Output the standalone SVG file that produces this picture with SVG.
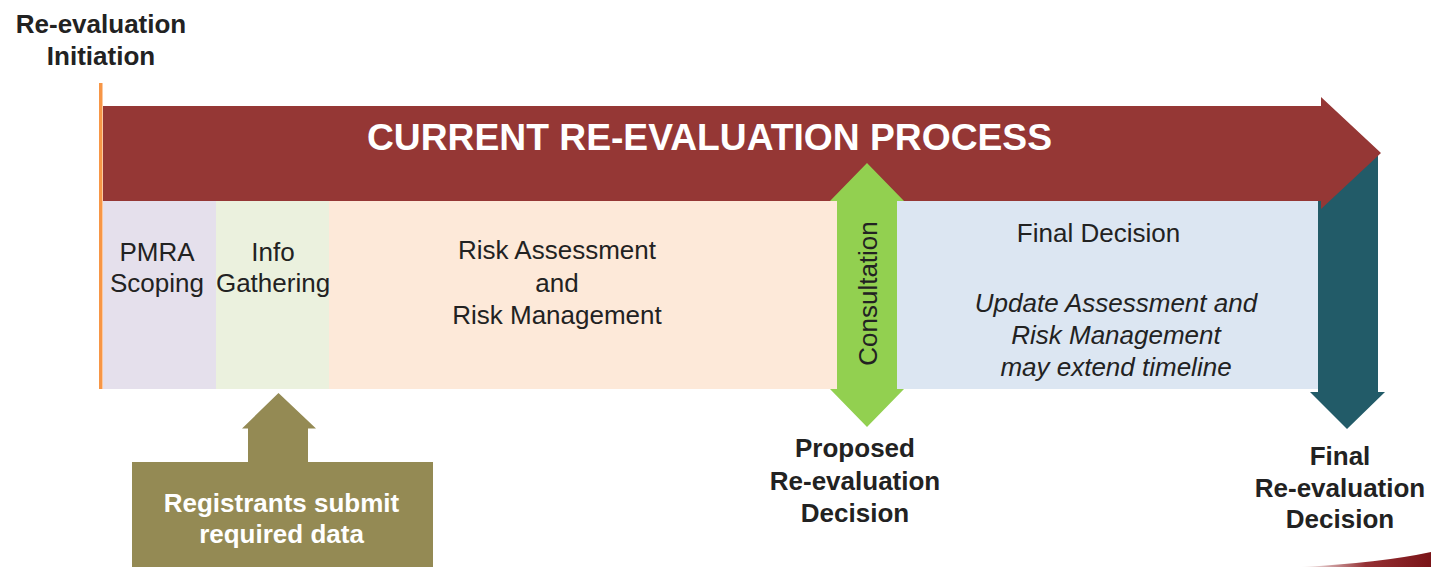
<svg xmlns="http://www.w3.org/2000/svg" width="1431" height="567" viewBox="0 0 1431 567">
<defs>
<style>
.t{font-family:"Liberation Sans",Arial,sans-serif;fill:#222;font-size:26px;text-anchor:middle}
.b{font-weight:bold}
.i{font-style:italic}
.w{fill:#fff}
</style>
<linearGradient id="sw" x1="0" y1="0" x2="1" y2="0">
<stop offset="0" stop-color="#8a1a1e" stop-opacity="0"/>
<stop offset="0.5" stop-color="#8a1a1e" stop-opacity="0.9"/>
<stop offset="1" stop-color="#7a1418"/>
</linearGradient>
</defs>
<rect width="1431" height="567" fill="#fff"/>

<g id="panels">
<rect id="pmra" x="103" y="201" width="113" height="188" fill="#E5E0EC"/>
<rect id="info" x="216" y="201" width="113" height="188" fill="#EBF1DE"/>
<rect id="risk" x="329" y="201" width="508" height="188" fill="#FDE9D9"/>
<rect id="final" x="897" y="201" width="421" height="188" fill="#DCE6F2"/>
</g>

<g id="teal-arrow">
<polygon points="1318,150 1378,150 1378,392 1385,392 1347,429 1310,392 1318,392" fill="#225B68"/>
</g>

<g id="main-arrow">
<polygon points="103,106 1321,106 1321,97 1381,153 1321,209 1321,201 103,201" fill="#953735"/>
<text class="t b w" x="709.5" y="150" style="font-size:37px" textLength="685" lengthAdjust="spacingAndGlyphs">CURRENT RE-EVALUATION PROCESS</text>
</g>

<g id="initiation">
<rect x="99" y="83" width="3.5" height="306" fill="#F79646"/>
<text class="t b" x="101" y="33">Re-evaluation</text>
<text class="t b" x="101" y="65">Initiation</text>
</g>

<g id="pmra-text">
<text class="t" x="157" y="261">PMRA</text>
<text class="t" x="157" y="292">Scoping</text>
</g>
<g id="info-text">
<text class="t" x="273" y="261">Info</text>
<text class="t" x="273" y="292">Gathering</text>
</g>
<g id="risk-text">
<text class="t" x="557" y="259">Risk Assessment</text>
<text class="t" x="557" y="292">and</text>
<text class="t" x="557" y="324">Risk Management</text>
</g>
<g id="final-text">
<text class="t" x="1098.5" y="241.5">Final Decision</text>
<text class="t i" x="1116" y="311.5">Update Assessment and</text>
<text class="t i" x="1116" y="344">Risk Management</text>
<text class="t i" x="1116" y="375.5">may extend timeline</text>
</g>

<g id="consultation">
<polygon points="867,163 904,201 897,201 897,389 904,389 867,427 830,389 837,389 837,201 830,201" fill="#92D050"/>
<text class="t" transform="translate(877,293.5) rotate(-90)" x="0" y="0">Consultation</text>
</g>

<g id="proposed">
<text class="t b" x="855" y="457">Proposed</text>
<text class="t b" x="855" y="490">Re-evaluation</text>
<text class="t b" x="855" y="521.5">Decision</text>
</g>

<g id="final-decision">
<text class="t b" x="1340" y="465">Final</text>
<text class="t b" x="1340" y="497">Re-evaluation</text>
<text class="t b" x="1340" y="528">Decision</text>
</g>

<g id="registrants">
<polygon points="278.5,393 316,428.5 308,428.5 308,462 433,462 433,567 132,567 132,462 248,462 248,428.5 242,428.5" fill="#948A54"/>
<text class="t b w" x="281.5" y="511.5">Registrants submit</text>
<text class="t b w" x="281.5" y="543">required data</text>
</g>

<path d="M1300,567 Q1380,563 1431,552 L1431,567 Z" fill="url(#sw)"/>
</svg>
